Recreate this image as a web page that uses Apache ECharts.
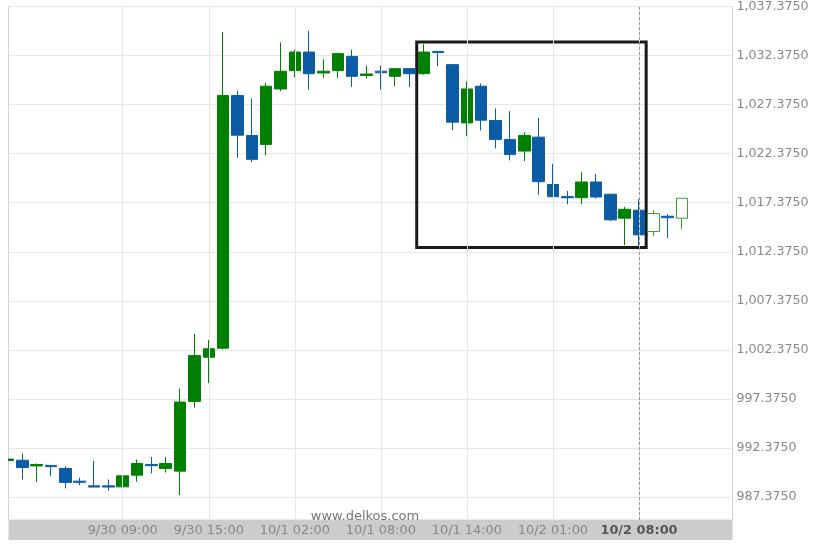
<!DOCTYPE html>
<html>
<head>
<meta charset="utf-8">
<script src="https://cdn.jsdelivr.net/npm/echarts@6/dist/echarts.min.js"></script>
<style>html,body{margin:0;padding:0;background:#fff;}#c{width:822px;height:548px;}</style>
</head>
<body>
<div id="c"></div>
<script>
// ---- data (one entry per hourly candle) ----
const openV  = [991.10,991.13,990.55,990.60,990.29,989.00,988.52,988.52,988.42,989.61,990.70,990.29,990.02,997.13,1001.63,1002.55,1028.30,1024.23,1023.32,1028.97,1030.84,1032.73,1030.60,1030.84,1032.29,1030.35,1030.78,1030.26,1031.04,1030.53,1032.80,1031.45,1025.51,1029.25,1025.76,1023.83,1022.64,1024.06,1019.23,1018.00,1017.89,1019.49,1018.24,1015.80,1016.61,1014.44,1016.00,1015.80];
const closeV = [991.25,990.39,990.70,990.48,988.87,988.88,988.40,988.40,989.54,990.80,990.58,990.80,997.06,1001.80,1002.49,1028.30,1024.26,1021.80,1029.25,1030.77,1032.73,1030.53,1030.78,1032.57,1030.26,1030.50,1030.62,1031.04,1030.53,1032.73,1032.68,1025.59,1028.97,1025.79,1023.83,1022.30,1024.23,1019.52,1017.99,1017.88,1019.49,1017.96,1015.63,1016.71,1014.10,1016.27,1015.85,1017.83];
const lowV   = [991.00,989.17,988.93,989.50,988.26,988.60,988.40,988.00,988.01,988.93,989.78,989.88,987.58,996.49,998.99,1002.40,1021.96,1021.52,1022.23,1028.74,1030.16,1028.91,1030.10,1030.09,1029.17,1030.03,1028.91,1029.25,1029.17,1030.43,1031.30,1024.74,1024.16,1024.74,1022.91,1021.69,1021.62,1018.17,1017.95,1017.22,1017.22,1017.80,1015.50,1013.06,1012.99,1014.00,1013.77,1014.68];
const highV  = [991.30,991.82,990.80,990.60,990.53,989.35,991.06,989.17,989.84,991.20,991.47,991.47,998.42,1004.01,1003.40,1034.76,1028.81,1028.00,1029.58,1033.72,1032.97,1034.90,1032.00,1032.65,1032.97,1031.35,1031.35,1031.10,1031.10,1033.54,1032.80,1031.45,1029.75,1029.52,1026.98,1026.70,1024.57,1026.02,1021.35,1018.57,1020.50,1020.33,1018.30,1016.95,1017.73,1016.61,1016.20,1017.83];
const hollowIdx = [45, 47];               // unfinished candles drawn hollow
const xTickIdx = [8, 14, 20, 26, 32, 38, 44];
const xTickLabels = ['9/30 09:00','9/30 15:00','10/1 02:00','10/1 08:00','10/1 14:00','10/2 01:00','10/2 08:00'];
const currentIdx = 44;                    // dashed marker / bold label
const yTicks = [987.375,992.375,997.375,1002.375,1007.375,1012.375,1017.375,1022.375,1027.375,1032.375,1037.375];
const boxX = [28.5, 44.5];                // highlighted pattern range (candle index)
const boxY = [1033.75, 1012.8];           // highlighted pattern range (price)

const GREEN = '#008000', BLUE = '#0b5ca4';
const data = openV.map((o, i) => {
  const item = { value: [i, o, closeV[i], lowV[i], highV[i]] };
  if (hollowIdx.indexOf(i) >= 0) item.itemStyle = { color: '#ffffff', borderColor: '#3c9c3c', borderColor0: '#3c9c3c' };
  return item;
});

function fmtY(v) {
  const s = v.toFixed(4).split('.');
  return s[0].replace(/\B(?=(\d{3})+(?!\d))/g, ',') + '.' + s[1];
}

const chart = echarts.init(document.getElementById('c'), null, { renderer: 'canvas' });
chart.setOption({
  animation: false,
  backgroundColor: '#ffffff',
  graphic: [
    { type: 'rect', z: 0, shape: { x: 8.5, y: 520, width: 724, height: 20 }, style: { fill: '#cccccc' } },
    { type: 'rect', z: 100, shape: { x: 0, y: 0, width: 8, height: 520 }, style: { fill: '#ffffff' } }
  ],
  title: {
    text: 'www.delkos.com', left: 360, top: 505, textAlign: 'center',
    textStyle: { fontFamily: 'DejaVu Sans', fontSize: 13, fontWeight: 'normal', color: '#777' }
  },
  grid: { left: 8.5, top: 4.5, width: 724, height: 515.5, show: true, borderColor: '#d2d2d2', borderWidth: 1, backgroundColor: 'transparent' },
  xAxis: {
    type: 'value', min: 0.035, max: 50.52, z: 5,
    axisLine: { show: false }, axisTick: { show: false, customValues: xTickIdx },
    splitLine: { show: true, lineStyle: { color: '#e6e6e6', width: 1 } },
    axisLabel: {
      customValues: xTickIdx, margin: 4, fontFamily: 'DejaVu Sans', fontSize: 12.9, color: '#888',
      formatter: v => {
        const k = xTickIdx.indexOf(Math.round(v));
        if (k < 0) return '';
        return Math.round(v) === currentIdx ? '{b|' + xTickLabels[k] + '}' : xTickLabels[k];
      },
      rich: { b: { fontFamily: 'DejaVu Sans', fontSize: 12.9, fontWeight: 'bold', color: '#555' } }
    }
  },
  yAxis: {
    type: 'value', position: 'right', min: 985.04, max: 1037.375, scale: true,
    axisLine: { show: false }, axisTick: { show: false, customValues: yTicks },
    splitLine: { show: true, lineStyle: { color: '#e6e6e6', width: 1 } },
    axisLabel: { customValues: yTicks, margin: 4, fontFamily: 'DejaVu Sans', fontSize: 12.6, color: '#888', formatter: fmtY }
  },
  series: [{
    type: 'candlestick',
    dimensions: ['x', 'open', 'close', 'lowest', 'highest'],
    encode: { x: 0, y: [1, 2, 3, 4] },
    barWidth: 12,
    clip: true,
    data: data,
    itemStyle: { color: GREEN, color0: BLUE, borderColor: GREEN, borderColor0: BLUE, borderWidth: 1 },
    markLine: {
      silent: true, symbol: ['none', 'none'], label: { show: false },
      lineStyle: { color: '#999', type: [3, 2], width: 1 },
      data: [{ xAxis: currentIdx }]
    },
    markArea: {
      silent: true, label: { show: false },
      itemStyle: { color: 'rgba(0,0,0,0)', borderColor: '#1a1a1a', borderWidth: 3 },
      data: [[{ coord: [boxX[0], boxY[0]] }, { coord: [boxX[1], boxY[1]] }]]
    }
  }]
});
</script>
</body>
</html>
